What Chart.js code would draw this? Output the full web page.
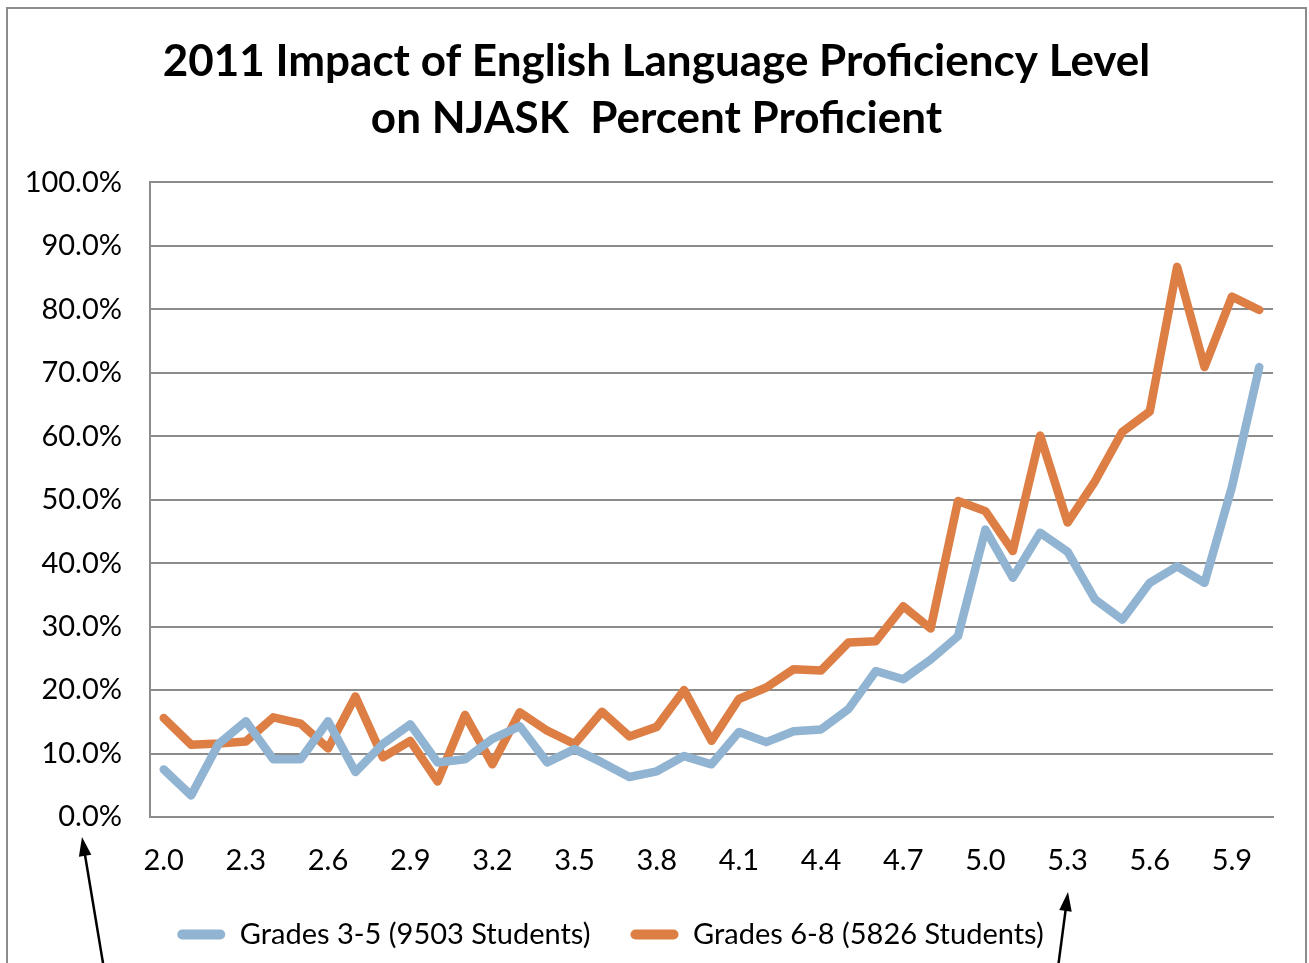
<!DOCTYPE html>
<html>
<head>
    <meta charset="utf-8"/>
    <title>2011 Impact of English Language Proficiency Level</title>
    <script src="https://cdn.jsdelivr.net/npm/chart.js"></script>
    <style>
        body { margin: 0; background: #fff; }
        canvas { display: block; }
    </style>
</head>
<body>
    <canvas id="elpChart" width="1309" height="963"></canvas>

    <script type="text/javascript">
        // ELP level (x axis categories)
        const levels = ['2.0', '2.1', '2.2', '2.3', '2.4', '2.5', '2.6', '2.7', '2.8', '2.9',
                        '3.0', '3.1', '3.2', '3.3', '3.4', '3.5', '3.6', '3.7', '3.8', '3.9',
                        '4.0', '4.1', '4.2', '4.3', '4.4', '4.5', '4.6', '4.7', '4.8', '4.9',
                        '5.0', '5.1', '5.2', '5.3', '5.4', '5.5', '5.6', '5.7', '5.8', '5.9', '6.0'];

        // percent proficient
        const grades35 = [7.5, 3.4, 11.5, 15.1, 9.1, 9.1, 15.1, 7.1, 11.5, 14.6,
                          8.6, 9.1, 12.3, 14.3, 8.6, 10.7, 8.6, 6.3, 7.2, 9.6,
                          8.3, 13.4, 11.8, 13.5, 13.8, 17.0, 23.0, 21.7, 24.8, 28.5,
                          45.3, 37.7, 44.8, 41.8, 34.3, 31.1, 36.9, 39.5, 36.9, 52.0, 70.9];
        const grades68 = [15.6, 11.4, 11.6, 11.9, 15.7, 14.7, 10.8, 19.0, 9.4, 12.0,
                          5.6, 16.1, 8.3, 16.5, 13.6, 11.5, 16.6, 12.7, 14.2, 20.0,
                          12.0, 18.6, 20.4, 23.3, 23.1, 27.5, 27.7, 33.2, 29.7, 49.8,
                          48.2, 41.9, 60.1, 46.4, 52.9, 60.7, 63.9, 86.7, 70.9, 82.0, 79.9];

        const seriesNames = ['Grades 3-5 (9503 Students)', 'Grades 6-8 (5826 Students)'];
        const titleLines = ['2011 Impact of English Language Proficiency Level', 'on NJASK  Percent Proficient'];

        const BLUE = '#91b4d2';
        const ORANGE = '#dd7e45';
        const GRID = '#8c8c8c';
        const FONT = 'Lato, "Open Sans", sans-serif';

        // white page, outer frame and the two hand drawn arrows
        const framePlugin = {
            id: 'frame',
            afterLayout(chart) {
                // the original has the legend a bit left of centre and the title a bit right
                chart.legend.left -= 36;
                chart.legend.right -= 36;
                chart.titleBlock.left += 10;
                chart.titleBlock.right += 10;
            },
            beforeDraw(chart) {
                const ctx = chart.ctx;
                ctx.save();
                ctx.fillStyle = '#fff';
                ctx.fillRect(0, 0, chart.width, chart.height);
                ctx.restore();
            },
            afterDraw(chart) {
                const ctx = chart.ctx;
                ctx.save();
                ctx.strokeStyle = GRID;
                ctx.lineWidth = 2;
                ctx.strokeRect(7, 8, 1299, 1000);

                function arrow(x1, y1, x2, y2) {
                    const ang = Math.atan2(y2 - y1, x2 - x1);
                    const head = 20, spread = 0.32;
                    ctx.strokeStyle = '#000';
                    ctx.fillStyle = '#000';
                    ctx.lineWidth = 2.5;
                    ctx.beginPath();
                    ctx.moveTo(x1, y1);
                    ctx.lineTo(x2 - Math.cos(ang) * head * 0.8, y2 - Math.sin(ang) * head * 0.8);
                    ctx.stroke();
                    ctx.beginPath();
                    ctx.moveTo(x2, y2);
                    ctx.lineTo(x2 - head * Math.cos(ang - spread), y2 - head * Math.sin(ang - spread));
                    ctx.lineTo(x2 - head * Math.cos(ang + spread), y2 - head * Math.sin(ang + spread));
                    ctx.closePath();
                    ctx.fill();
                }
                arrow(105, 975, 82, 837);
                arrow(1057, 975, 1068, 892);
                ctx.restore();
            }
        };

        const ctx = document.getElementById('elpChart').getContext('2d');
        const elpChart = new Chart(ctx, {
            type: 'line',
            data: {
                labels: levels,
                datasets: [{
                    label: seriesNames[0],
                    data: grades35,
                    borderColor: BLUE,
                    backgroundColor: BLUE,
                    borderWidth: 8.5,
                    pointRadius: 0,
                    tension: 0,
                    borderJoinStyle: 'round',
                    borderCapStyle: 'round'
                }, {
                    label: seriesNames[1],
                    data: grades68,
                    borderColor: ORANGE,
                    backgroundColor: ORANGE,
                    borderWidth: 8.5,
                    pointRadius: 0,
                    tension: 0,
                    borderJoinStyle: 'round',
                    borderCapStyle: 'round'
                }]
            },
            options: {
                responsive: false,
                animation: false,
                layout: {
                    padding: { top: 10, left: 20, right: 36, bottom: 4 }
                },
                plugins: {
                    title: {
                        display: true,
                        text: titleLines,
                        color: '#000',
                        font: { family: FONT, size: 44, weight: 'bold', lineHeight: 1.3 },
                        padding: { top: 23, bottom: 35 }
                    },
                    legend: {
                        position: 'bottom',
                        labels: {
                            color: '#000',
                            font: { family: FONT, size: 29 },
                            boxWidth: 48,
                            boxHeight: 10,
                            padding: 40,
                            useBorderRadius: true,
                            borderRadius: 5,
                            generateLabels(chart) {
                                const items = Chart.defaults.plugins.legend.labels.generateLabels(chart);
                                items.forEach(item => { item.lineWidth = 0; });
                                return items;
                            }
                        }
                    },
                    tooltip: { enabled: false }
                },
                scales: {
                    x: {
                        offset: true,
                        grid: { display: false },
                        border: { display: true, color: GRID, width: 2 },
                        ticks: {
                            color: '#000',
                            font: { family: FONT, size: 29 },
                            autoSkip: false,
                            maxRotation: 0,
                            padding: 18,
                            callback: (val, i) => (i % 3 === 0 ? levels[i] : '')
                        },
                        afterFit: scale => { scale.height = 63; }
                    },
                    y: {
                        min: 0,
                        max: 100,
                        grid: { color: GRID, lineWidth: 2, drawTicks: false },
                        border: { display: true, color: GRID, width: 2 },
                        ticks: {
                            color: '#000',
                            font: { family: FONT, size: 29 },
                            stepSize: 10,
                            padding: 28,
                            callback: v => v.toFixed(1) + '%'
                        },
                        afterFit: scale => { scale.width = 130; }
                    }
                }
            },
            plugins: [framePlugin]
        });
    </script>
</body>
</html>
